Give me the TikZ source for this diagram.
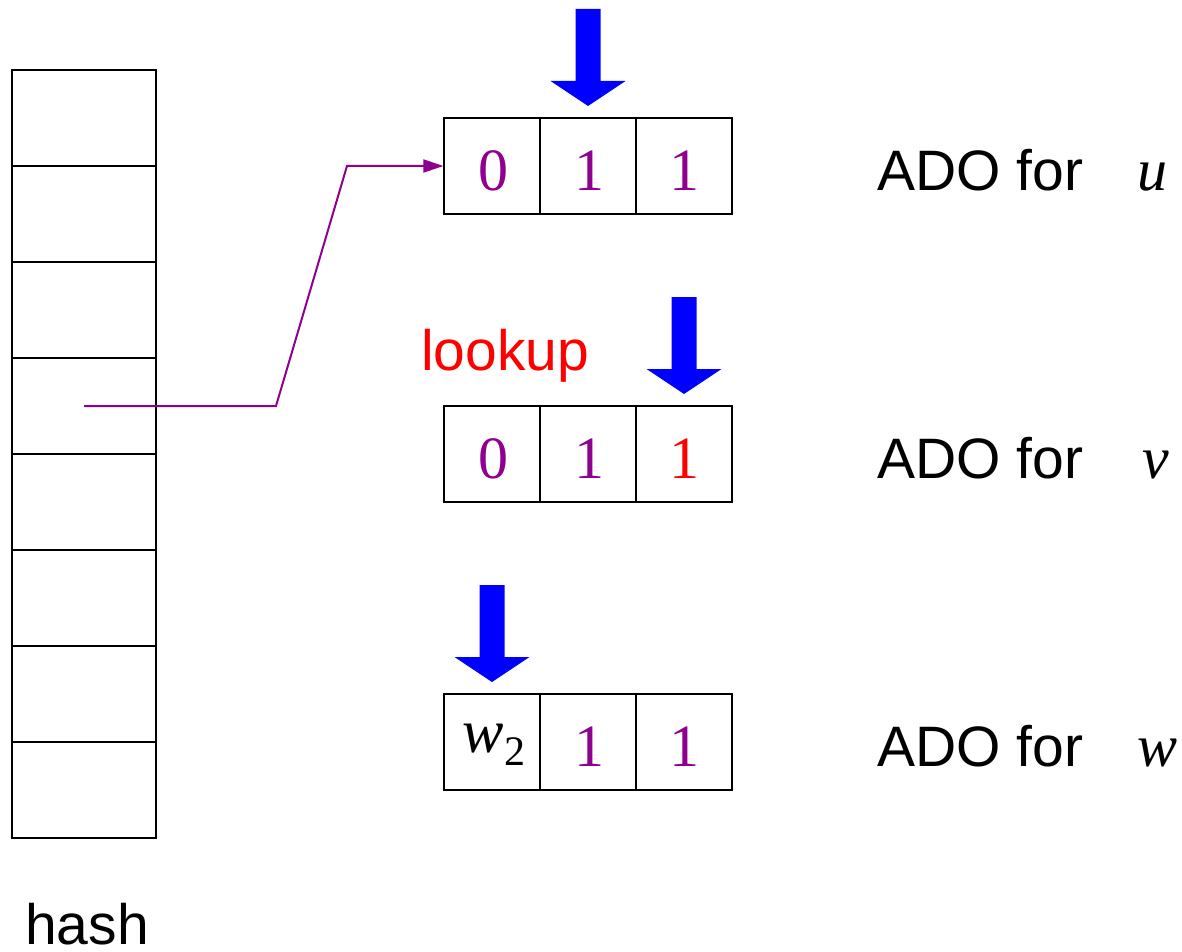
\documentclass[tikz,border=0pt]{standalone}
\usepackage{fontspec}
\setmainfont{Liberation Serif}
\setsansfont{Liberation Sans}
\usetikzlibrary{arrows.meta}
\definecolor{ppl}{RGB}{144,0,144}
\definecolor{bblue}{RGB}{0,0,255}
\definecolor{rred}{RGB}{255,0,0}
\newcommand{\downblock}[4]{%
  \fill[bblue] (#1-12.5,#2) -- (#1+12.5,#2) -- (#1+12.5,#3) -- (#1+37.5,#3) -- (#1,#4) -- (#1-37.5,#3) -- (#1-12.5,#3) -- cycle;}
\begin{document}
\begin{tikzpicture}[x=1pt,y=-1pt,
  cell/.style={draw=black,line width=1.3pt,minimum width=96pt,minimum height=96pt,inner sep=0pt,
    text height=49pt,text depth=0pt,font=\fontsize{60}{60}\selectfont,text=ppl},
  hcell/.style={draw=black,line width=1.3pt,minimum width=144pt,minimum height=96pt,inner sep=0pt},
  lbl/.style={anchor=base west,inner sep=0pt,font=\sffamily\fontsize{57}{60}\selectfont},
  link/.style={ppl,line width=2pt,-{Triangle[length=20pt,width=13pt]}}]
\useasboundingbox (0,0) rectangle (1182,952);
% hash column
\foreach \i in {1,...,8}{
  \node[hcell] (h\i) at (84,{118+96*(\i-1)}) {};
}
\node[lbl] (hashlbl) at (25,944) {hash};
% ADO rows
\node[cell] (a1) at (492,166) {\hspace{3pt}0};
\node[cell] (a2) at (588,166) {\hspace{3pt}1};
\node[cell] (a3) at (684,166) {1};
\node[cell] (b1) at (492,454) {\hspace{3pt}0};
\node[cell] (b2) at (588,454) {\hspace{3pt}1};
\node[cell,text=rred] (b3) at (684,454) {1};
\node[cell,text=black,text height=20pt] (c1) at (492,742) {\hspace{4pt}\itshape\fontsize{62}{62}\selectfont w\/\raisebox{-13pt}{\upshape\fontsize{42}{42}\selectfont 2}};
\node[cell] (c2) at (588,742) {\hspace{3pt}1};
\node[cell] (c3) at (684,742) {1};
% labels
\node[lbl] (lu) at (877,190) {ADO for\hspace{54pt}{\rmfamily\itshape\fontsize{60}{60}\selectfont u}};
\node[lbl] (lv) at (877,478) {ADO for\hspace{59pt}{\rmfamily\itshape\fontsize{60}{60}\selectfont v}};
\node[lbl] (lw) at (877,766) {ADO for\hspace{54pt}{\rmfamily\itshape\fontsize{60}{60}\selectfont w}};
\node[lbl,text=rred] (lookup) at (421,370) {lookup};
% blue arrows
\downblock{588}{9}{81}{106}
\downblock{684}{297}{369}{394}
\downblock{492}{585}{657}{682}
% pointer
\coordinate (k1) at (276,406);
\coordinate (k2) at (347,166);
\draw[link] (h4.center) -- (k1) -- (k2) -- (a1.west);
\end{tikzpicture}
\end{document}
